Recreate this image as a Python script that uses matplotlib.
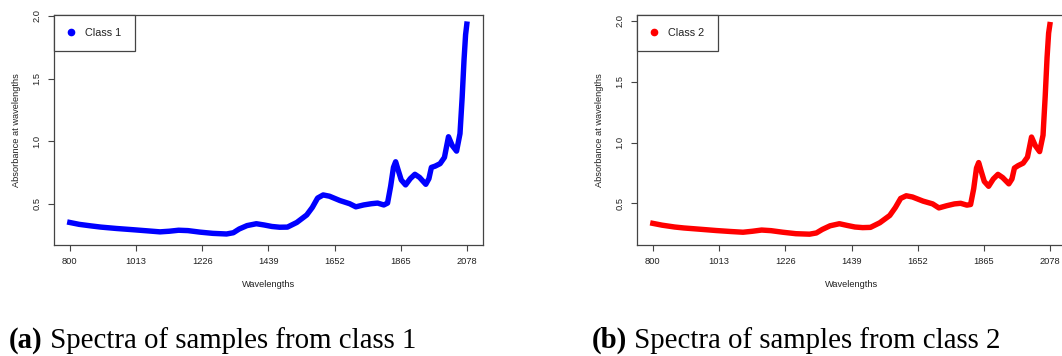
import matplotlib
matplotlib.use("Agg")
import matplotlib.pyplot as plt

# mean absorbance spectra per class
WAVELENGTHS = [800, 830, 870, 900, 950, 1004, 1050, 1090, 1120, 1150, 1180, 1218,
               1260, 1304, 1326, 1345, 1370, 1400, 1425, 1450, 1475, 1500, 1530,
               1562, 1580, 1597, 1615, 1635, 1669, 1700, 1720, 1745, 1770, 1790,
               1810, 1822, 1832, 1841, 1848, 1856, 1866, 1880, 1895, 1910, 1925,
               1945, 1955, 1963, 1975, 1991, 2005, 2018, 2030, 2044, 2055, 2062,
               2068, 2073, 2077]
ABS_CLASS1 = [0.350, 0.335, 0.322, 0.313, 0.302, 0.292, 0.283, 0.275, 0.280, 0.288,
              0.285, 0.273, 0.263, 0.258, 0.268, 0.298, 0.325, 0.340, 0.330, 0.318,
              0.312, 0.313, 0.350, 0.410, 0.470, 0.545, 0.570, 0.560, 0.525, 0.500,
              0.475, 0.490, 0.500, 0.505, 0.490, 0.505, 0.640, 0.790, 0.835, 0.770,
              0.690, 0.650, 0.700, 0.735, 0.710, 0.655, 0.700, 0.790, 0.800, 0.820,
              0.870, 1.035, 0.965, 0.920, 1.060, 1.350, 1.650, 1.850, 1.935]
ABS_CLASS2 = [0.335, 0.320, 0.305, 0.297, 0.287, 0.276, 0.268, 0.262, 0.270, 0.280,
              0.275, 0.262, 0.250, 0.246, 0.256, 0.285, 0.315, 0.332, 0.318, 0.305,
              0.300, 0.302, 0.340, 0.400, 0.465, 0.540, 0.562, 0.552, 0.518, 0.495,
              0.462, 0.480, 0.495, 0.500, 0.485, 0.490, 0.620, 0.790, 0.835, 0.765,
              0.680, 0.640, 0.700, 0.738, 0.712, 0.660, 0.700, 0.790, 0.810, 0.830,
              0.880, 1.045, 0.975, 0.925, 1.060, 1.380, 1.700, 1.900, 1.970]
X_TICKS = [800, 1013, 1226, 1439, 1652, 1865, 2078]
Y_TICKS = [0.5, 1.0, 1.5, 2.0]

plt.rcParams["font.family"] = ["Liberation Sans", "DejaVu Sans"]
EDGE = "#444444"

fig = plt.figure(figsize=(10.62, 3.56), dpi=100)

panels = [
    (0.0508, ABS_CLASS1, "#0000FF", "Class 1", (0.170, 2.008), "a", "Spectra of samples from class 1", 0.0085),
    (0.5998, ABS_CLASS2, "#FF0000", "Class 2", (0.157, 2.049), "b", "Spectra of samples from class 2", 0.5575),
]

for left, spec, color, name, ylim, tag, caption, cap_x in panels:
    ax = fig.add_axes([left, 0.3118, 0.404, 0.6461])
    ax.plot(WAVELENGTHS, spec, color=color, lw=3.9, solid_joinstyle="round")
    ax.set_xlim(749, 2129)
    ax.set_ylim(*ylim)
    ax.set_xticks(X_TICKS)
    ax.set_xticklabels([str(t) for t in X_TICKS])
    ax.set_yticks(Y_TICKS)
    ax.set_yticklabels([f"{t:.1f}" for t in Y_TICKS], rotation=90, va="center")
    ax.tick_params(length=4.5, width=0.8, color=EDGE, labelsize=6.7, pad=4.5,
                   labelcolor="#222222")
    for s in ax.spines.values():
        s.set_color(EDGE)
        s.set_linewidth(0.9)
    ax.set_xlabel("Wavelengths", fontsize=6.7, color="#222222", labelpad=10)
    ax.set_ylabel("Absorbance at wavelengths", fontsize=6.7, color="#222222", labelpad=8)

    ax.plot([], [], "o", color=color, ms=4.5, label=name)
    leg = ax.legend(loc="upper left", bbox_to_anchor=(0, 1), borderaxespad=0,
                    fontsize=7.8, fancybox=False, framealpha=1, edgecolor=EDGE,
                    borderpad=1.2, handlelength=0.8, handletextpad=0.9)
    leg.get_frame().set_linewidth(0.9)
    for t in leg.get_texts():
        t.set_color("#222222")

    # sub-figure caption: bold tag followed by regular text
    t1 = fig.text(cap_x, 0.0225, f"({tag})", fontsize=20.8, fontweight="bold",
                  family=["Liberation Serif"], va="baseline", ha="left")
    ax.annotate(" " + caption, xy=(1, 0), xycoords=t1, va="bottom", ha="left",
                fontsize=20.8, family=["Liberation Serif"], annotation_clip=False)

fig.savefig("out.png", dpi=100)
